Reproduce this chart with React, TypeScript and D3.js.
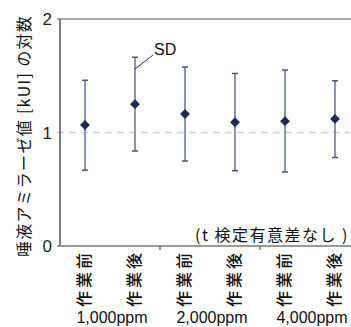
import * as d3 from 'd3';

// 作業前 / 作業後 for each concentration
const categories = ['作業前', '作業後', '作業前', '作業後', '作業前', '作業後'];
const groups = ['1,000ppm', '2,000ppm', '4,000ppm'];
const means = [1.066, 1.25, 1.163, 1.09, 1.1, 1.12];
const upper = [1.46, 1.663, 1.577, 1.52, 1.55, 1.456];
const lower = [0.667, 0.837, 0.749, 0.663, 0.652, 0.78];
const yTicks = [0, 1, 2];

const W = 351;
const H = 327;
const FONT = '"Liberation Sans", Arial, "Noto Sans CJK JP", sans-serif';
const JP = '"Noto Sans CJK JP", sans-serif';

const App = () => {
  const x = d3.scaleBand<number>()
    .domain(categories.map((_, i) => i))
    .range([60, 360]);
  const y = d3.scaleLinear().domain([0, 2]).range([246, 19]);
  const cx = (i: number) => (x(i) ?? 0) + x.bandwidth() / 2;

  const diamond = d3.symbol().type(d3.symbolDiamond2).size(62)();

  return (
    <svg width={W} height={H} style={{ position: 'absolute', left: 0, top: 0, background: '#fff' }}>
      {/* gridlines */}
      <line x1={57} x2={W} y1={y(2)} y2={y(2)} stroke="#8c8c8c" strokeWidth={1.5} />
      <line x1={57} x2={W} y1={y(1)} y2={y(1)} stroke="#cfcfcf" strokeWidth={1.5} strokeDasharray="7,5" />

      {/* axes */}
      <line x1={60} x2={60} y1={y(2)} y2={y(0)} stroke="#555" strokeWidth={1.5} />
      <line x1={57} x2={W} y1={y(0)} y2={y(0)} stroke="#777" strokeWidth={1.5} />
      {[2, 4].map(i => (
        <line key={i} x1={x(i)} x2={x(i)} y1={y(0)} y2={y(0) + 4} stroke="#555" strokeWidth={1.2} />
      ))}

      {yTicks.map(t => (
        <text key={t} x={52} y={y(t)} dy="0.36em" textAnchor="end" fontFamily={FONT} fontSize={17} fill="#222">
          {t}
        </text>
      ))}

      {/* error bars */}
      {means.map((m, i) => (
        <g key={i}>
          <line x1={cx(i)} x2={cx(i)} y1={y(upper[i])} y2={y(lower[i])} stroke="#8b95ae" strokeWidth={2} />
          <line x1={cx(i) - 3} x2={cx(i) + 3} y1={y(upper[i])} y2={y(upper[i])} stroke="#4a5578" strokeWidth={1.5} />
          <line x1={cx(i) - 3} x2={cx(i) + 3} y1={y(lower[i])} y2={y(lower[i])} stroke="#4a5578" strokeWidth={1.5} />
          <path d={diamond ?? ''} transform={`translate(${cx(i)},${y(m)})`} fill="#1c2a55" />
        </g>
      ))}

      {/* SD callout */}
      <line x1={cx(1)} y1={69} x2={153} y2={55} stroke="#333" strokeWidth={1} />
      <text x={154} y={55} fontFamily={FONT} fontSize={16} fill="#111">SD</text>

      <text x={195} y={241} fontFamily={JP} fontSize={16} letterSpacing={1.5} fill="#111">
        (t 検定有意差なし )
      </text>

      {/* category labels, vertical */}
      {categories.map((c, i) => (
        <text
          key={i}
          transform={`translate(${cx(i) - 2},250) rotate(-90)`}
          textAnchor="end"
          dominantBaseline="central"
          fontFamily={JP}
          fontSize={16}
          letterSpacing={3}
          fontWeight={500}
          fill="#111"
        >
          {c}
        </text>
      ))}

      {groups.map((g, k) => (
        <text key={g} x={(cx(2 * k) + cx(2 * k + 1)) / 2 + 2} y={323} textAnchor="middle" fontFamily={FONT} fontSize={16} fill="#111">
          {g}
        </text>
      ))}

      <text
        transform="translate(23,136) rotate(-90)"
        textAnchor="middle"
        dominantBaseline="central"
        fontFamily={JP}
        fontSize={16}
        letterSpacing={1.3}
        fill="#111"
      >
        唾液アミラーゼ値 [kUI] の対数
      </text>
    </svg>
  );
};

export default App;
